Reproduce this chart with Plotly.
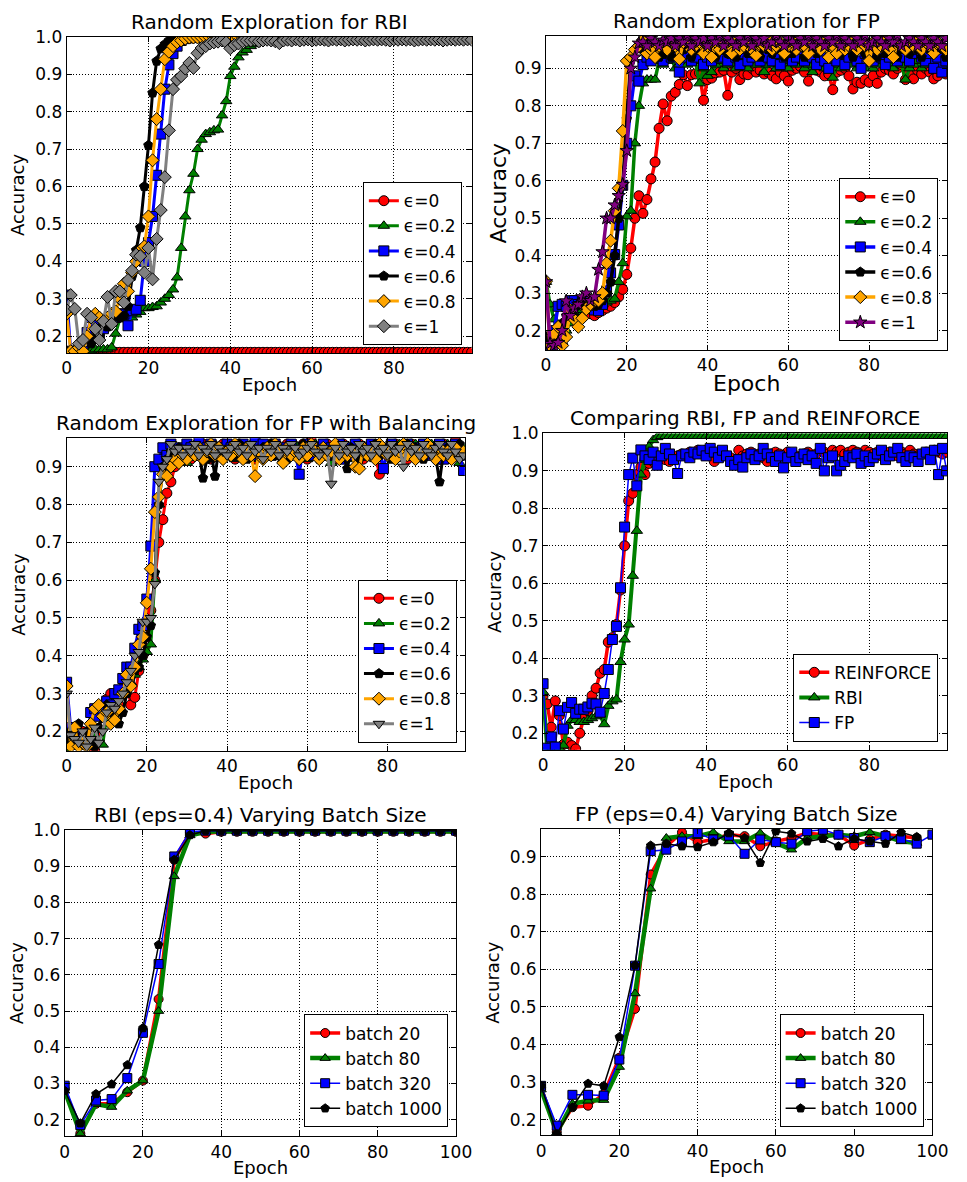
import plotly.graph_objects as go

W, H = 967, 1182

EPOCHS = list(range(100))
BATCH_EPOCHS = [0, 4, 8, 12, 16, 20, 24, 28, 32, 36, 40, 44, 48, 52, 56, 60, 64, 68, 72, 76, 80, 84, 88, 92, 96, 100]

EPS_LABELS = ["ϵ=0", "ϵ=0.2", "ϵ=0.4", "ϵ=0.6", "ϵ=0.8", "ϵ=1"]
CMP_LABELS = ["REINFORCE", "RBI", "FP"]
BATCH_LABELS = ["batch 20", "batch 80", "batch 320", "batch 1000"]

# ---------------- Panel 1: Random Exploration for RBI ----------------
RBI_EPS_0 = [
    0.157, 0.157, 0.157, 0.157, 0.157, 0.157, 0.157, 0.157, 0.157, 0.157,
    0.157, 0.157, 0.157, 0.157, 0.157, 0.157, 0.157, 0.157, 0.157, 0.157,
    0.157, 0.157, 0.157, 0.157, 0.157, 0.157, 0.157, 0.157, 0.157, 0.157,
    0.157, 0.157, 0.157, 0.157, 0.157, 0.157, 0.157, 0.157, 0.157, 0.157,
    0.157, 0.157, 0.157, 0.157, 0.157, 0.157, 0.157, 0.157, 0.157, 0.157,
    0.157, 0.157, 0.157, 0.157, 0.157, 0.157, 0.157, 0.157, 0.157, 0.157,
    0.157, 0.157, 0.157, 0.157, 0.157, 0.157, 0.157, 0.157, 0.157, 0.157,
    0.157, 0.157, 0.157, 0.157, 0.157, 0.157, 0.157, 0.157, 0.157, 0.157,
    0.157, 0.157, 0.157, 0.157, 0.157, 0.157, 0.157, 0.157, 0.157, 0.157,
    0.157, 0.157, 0.157, 0.157, 0.157, 0.157, 0.157, 0.157, 0.157, 0.157]
RBI_EPS_02 = [
    0.160, 0.160, 0.160, 0.160, 0.160, 0.160, 0.162, 0.165, 0.165, 0.165,
    0.165, 0.170, 0.207, 0.245, 0.250, 0.255, 0.250, 0.258, 0.265, 0.275,
    0.275, 0.278, 0.280, 0.290, 0.300, 0.310, 0.325, 0.357, 0.436, 0.520,
    0.590, 0.634, 0.700, 0.725, 0.740, 0.745, 0.750, 0.752, 0.790, 0.828,
    0.895, 0.920, 0.945, 0.958, 0.965, 0.975, 0.980, 0.985, 0.990, 0.993,
    0.994, 0.995, 0.995, 0.996, 0.995, 0.996, 0.996, 0.995, 0.996, 0.996,
    0.996, 0.995, 0.996, 0.996, 0.996, 0.996, 0.995, 0.996, 0.996, 0.996,
    0.996, 0.996, 0.995, 0.996, 0.996, 0.996, 0.996, 0.996, 0.995, 0.996,
    0.996, 0.996, 0.996, 0.996, 0.996, 0.995, 0.996, 0.996, 0.996, 0.996,
    0.996, 0.996, 0.996, 0.995, 0.996, 0.996, 0.996, 0.996, 0.996, 0.996]
RBI_EPS_04 = [
    0.310, 0.160, 0.160, 0.160, 0.160, 0.210, 0.250, 0.240, 0.200, 0.220,
    0.230, 0.240, 0.250, 0.260, 0.259, 0.228, 0.268, 0.272, 0.296, 0.400,
    0.450, 0.520, 0.630, 0.740, 0.860, 0.925, 0.955, 0.975, 0.990, 0.995,
    0.997, 0.998, 0.998, 0.998, 0.998, 0.998, 0.998, 0.998, 0.998, 0.998,
    0.998, 0.998, 0.998, 0.998, 0.998, 0.998, 0.998, 0.998, 0.998, 0.998,
    0.998, 0.998, 0.998, 0.998, 0.998, 0.998, 0.998, 0.998, 0.998, 0.998,
    0.998, 0.998, 0.998, 0.998, 0.998, 0.998, 0.998, 0.998, 0.998, 0.998,
    0.998, 0.998, 0.998, 0.998, 0.998, 0.998, 0.998, 0.998, 0.998, 0.998,
    0.998, 0.998, 0.998, 0.998, 0.998, 0.998, 0.998, 0.998, 0.998, 0.998,
    0.998, 0.998, 0.998, 0.998, 0.998, 0.998, 0.998, 0.998, 0.998, 0.998]
RBI_EPS_06 = [
    0.160, 0.160, 0.160, 0.160, 0.160, 0.200, 0.180, 0.220, 0.200, 0.230,
    0.225, 0.240, 0.260, 0.250, 0.255, 0.280, 0.360, 0.430, 0.490, 0.600,
    0.710, 0.850, 0.935, 0.968, 0.980, 0.990, 0.998, 0.999, 0.999, 0.999,
    0.999, 0.999, 0.999, 0.999, 0.999, 0.999, 0.999, 0.999, 0.999, 0.999,
    0.999, 0.999, 0.999, 0.999, 0.999, 0.999, 0.999, 0.999, 0.999, 0.999,
    0.999, 0.999, 0.999, 0.999, 0.999, 0.999, 0.999, 0.999, 0.999, 0.999,
    0.999, 0.999, 0.999, 0.999, 0.999, 0.999, 0.999, 0.999, 0.999, 0.999,
    0.999, 0.999, 0.999, 0.999, 0.999, 0.999, 0.999, 0.999, 0.999, 0.999,
    0.999, 0.999, 0.999, 0.999, 0.999, 0.999, 0.999, 0.999, 0.999, 0.999,
    0.999, 0.999, 0.999, 0.999, 0.999, 0.999, 0.999, 0.999, 0.999, 0.999]
RBI_EPS_08 = [
    0.260, 0.160, 0.160, 0.170, 0.160, 0.200, 0.250, 0.260, 0.250, 0.240,
    0.250, 0.260, 0.266, 0.300, 0.340, 0.320, 0.370, 0.400, 0.430, 0.440,
    0.520, 0.670, 0.780, 0.860, 0.940, 0.960, 0.975, 0.985, 0.990, 0.995,
    0.998, 0.998, 0.998, 0.998, 0.998, 0.998, 0.998, 0.998, 0.998, 0.998,
    0.998, 0.998, 0.998, 0.998, 0.998, 0.998, 0.998, 0.998, 0.998, 0.998,
    0.998, 0.998, 0.998, 0.998, 0.998, 0.998, 0.998, 0.998, 0.998, 0.998,
    0.998, 0.998, 0.998, 0.998, 0.998, 0.998, 0.998, 0.998, 0.998, 0.998,
    0.998, 0.998, 0.998, 0.998, 0.998, 0.998, 0.998, 0.998, 0.998, 0.998,
    0.998, 0.998, 0.998, 0.998, 0.998, 0.998, 0.998, 0.998, 0.998, 0.998,
    0.998, 0.998, 0.998, 0.998, 0.998, 0.998, 0.998, 0.998, 0.998, 0.998]
RBI_EPS_1 = [
    0.270, 0.310, 0.273, 0.180, 0.190, 0.260, 0.250, 0.220, 0.190, 0.240,
    0.305, 0.233, 0.320, 0.320, 0.290, 0.350, 0.375, 0.418, 0.414, 0.370,
    0.436, 0.352, 0.460, 0.537, 0.625, 0.750, 0.860, 0.885, 0.895, 0.915,
    0.930, 0.917, 0.956, 0.970, 0.975, 0.982, 0.985, 0.987, 0.990, 0.985,
    0.969, 0.978, 0.982, 0.988, 0.990, 0.990, 0.992, 0.988, 0.990, 0.992,
    0.990, 0.988, 0.983, 0.990, 0.992, 0.990, 0.993, 0.990, 0.992, 0.993,
    0.990, 0.992, 0.993, 0.992, 0.990, 0.993, 0.992, 0.993, 0.990, 0.992,
    0.993, 0.992, 0.993, 0.990, 0.992, 0.993, 0.992, 0.993, 0.992, 0.990,
    0.993, 0.992, 0.993, 0.992, 0.993, 0.990, 0.992, 0.993, 0.992, 0.993,
    0.992, 0.993, 0.990, 0.992, 0.993, 0.992, 0.993, 0.992, 0.993, 0.992]

# ---------------- Panel 2: Random Exploration for FP ----------------
FP_EPS_0 = [
    0.170, 0.160, 0.180, 0.190, 0.210, 0.220, 0.230, 0.240, 0.245, 0.250,
    0.250, 0.245, 0.240, 0.248, 0.254, 0.260, 0.265, 0.275, 0.290, 0.310,
    0.350, 0.420, 0.500, 0.560, 0.513, 0.550, 0.605, 0.650, 0.740, 0.805,
    0.760, 0.826, 0.836, 0.857, 0.883, 0.854, 0.883, 0.885, 0.888, 0.815,
    0.870, 0.874, 0.888, 0.890, 0.895, 0.828, 0.890, 0.900, 0.870, 0.885,
    0.883, 0.900, 0.890, 0.895, 0.885, 0.890, 0.880, 0.872, 0.890, 0.880,
    0.866, 0.895, 0.900, 0.905, 0.890, 0.866, 0.900, 0.895, 0.890, 0.880,
    0.885, 0.843, 0.890, 0.895, 0.900, 0.880, 0.845, 0.863, 0.860, 0.870,
    0.863, 0.880, 0.860, 0.890, 0.900, 0.895, 0.885, 0.900, 0.910, 0.870,
    0.890, 0.872, 0.895, 0.885, 0.900, 0.890, 0.872, 0.880, 0.895, 0.885]
FP_EPS_02 = [
    0.330, 0.270, 0.230, 0.190, 0.170, 0.200, 0.220, 0.240, 0.250, 0.255,
    0.260, 0.260, 0.260, 0.265, 0.270, 0.275, 0.280, 0.285, 0.330, 0.380,
    0.505, 0.520, 0.700, 0.800, 0.860, 0.870, 0.870, 0.870, 0.920, 0.910,
    0.920, 0.930, 0.900, 0.910, 0.920, 0.910, 0.930, 0.920, 0.860, 0.900,
    0.880, 0.890, 0.910, 0.920, 0.900, 0.910, 0.930, 0.900, 0.920, 0.910,
    0.900, 0.920, 0.910, 0.930, 0.890, 0.910, 0.920, 0.900, 0.910, 0.920,
    0.900, 0.930, 0.910, 0.920, 0.900, 0.910, 0.890, 0.920, 0.910, 0.900,
    0.920, 0.875, 0.910, 0.900, 0.920, 0.910, 0.930, 0.900, 0.910, 0.900,
    0.920, 0.900, 0.910, 0.920, 0.930, 0.910, 0.900, 0.920, 0.910, 0.870,
    0.900, 0.910, 0.920, 0.900, 0.910, 0.930, 0.900, 0.910, 0.920, 0.910]
FP_EPS_04 = [
    0.160, 0.150, 0.200, 0.265, 0.270, 0.265, 0.280, 0.280, 0.270, 0.280,
    0.270, 0.260, 0.255, 0.253, 0.270, 0.306, 0.354, 0.403, 0.482, 0.588,
    0.700, 0.800, 0.880, 0.866, 0.910, 0.930, 0.920, 0.940, 0.930, 0.920,
    0.940, 0.930, 0.950, 0.890, 0.930, 0.940, 0.920, 0.930, 0.950, 0.910,
    0.930, 0.920, 0.940, 0.930, 0.950, 0.920, 0.940, 0.930, 0.910, 0.940,
    0.920, 0.930, 0.940, 0.920, 0.950, 0.930, 0.920, 0.940, 0.910, 0.930,
    0.940, 0.920, 0.930, 0.950, 0.920, 0.940, 0.930, 0.910, 0.930, 0.920,
    0.900, 0.930, 0.920, 0.940, 0.910, 0.930, 0.950, 0.920, 0.900, 0.940,
    0.930, 0.920, 0.940, 0.930, 0.910, 0.930, 0.940, 0.920, 0.950, 0.930,
    0.920, 0.940, 0.950, 0.930, 0.920, 0.940, 0.900, 0.930, 0.890, 0.920]
FP_EPS_06 = [
    0.170, 0.190, 0.170, 0.200, 0.220, 0.240, 0.250, 0.260, 0.270, 0.280,
    0.260, 0.270, 0.265, 0.270, 0.280, 0.300, 0.330, 0.400, 0.500, 0.590,
    0.765, 0.920, 0.950, 0.960, 0.950, 0.940, 0.960, 0.950, 0.930, 0.940,
    0.950, 0.930, 0.960, 0.940, 0.950, 0.970, 0.930, 0.950, 0.960, 0.940,
    0.960, 0.950, 0.930, 0.970, 0.950, 0.940, 0.960, 0.930, 0.950, 0.960,
    0.940, 0.960, 0.950, 0.930, 0.970, 0.950, 0.940, 0.960, 0.950, 0.930,
    0.960, 0.940, 0.950, 0.970, 0.930, 0.950, 0.960, 0.940, 0.950, 0.960,
    0.930, 0.950, 0.960, 0.940, 0.970, 0.950, 0.930, 0.960, 0.950, 0.940,
    0.960, 0.950, 0.930, 0.970, 0.940, 0.950, 0.960, 0.930, 0.950, 0.960,
    0.940, 0.960, 0.950, 0.930, 0.970, 0.950, 0.940, 0.960, 0.950, 0.930]
FP_EPS_08 = [
    0.332, 0.160, 0.190, 0.210, 0.160, 0.183, 0.255, 0.230, 0.210, 0.233,
    0.257, 0.270, 0.280, 0.280, 0.300, 0.380, 0.440, 0.520, 0.580, 0.733,
    0.920, 0.930, 0.950, 0.960, 0.976, 0.940, 0.950, 0.930, 0.960, 0.970,
    0.950, 0.970, 0.960, 0.925, 0.970, 0.980, 0.950, 0.960, 0.970, 0.940,
    0.960, 0.930, 0.970, 0.950, 0.980, 0.960, 0.940, 0.970, 0.950, 0.960,
    0.970, 0.950, 0.935, 0.970, 0.960, 0.980, 0.950, 0.960, 0.970, 0.940,
    0.960, 0.970, 0.950, 0.980, 0.960, 0.940, 0.970, 0.960, 0.950, 0.970,
    0.930, 0.960, 0.940, 0.970, 0.950, 0.960, 0.980, 0.950, 0.970, 0.960,
    0.920, 0.970, 0.950, 0.960, 0.980, 0.950, 0.930, 0.970, 0.960, 0.950,
    0.970, 0.960, 0.980, 0.950, 0.970, 0.960, 0.940, 0.970, 0.960, 0.950]
FP_EPS_1 = [
    0.330, 0.165, 0.160, 0.168, 0.200, 0.279, 0.240, 0.260, 0.270, 0.290,
    0.300, 0.280, 0.290, 0.363, 0.410, 0.500, 0.500, 0.535, 0.560, 0.590,
    0.680, 0.900, 0.930, 0.967, 0.970, 0.960, 0.980, 0.970, 0.960, 0.975,
    0.970, 0.980, 0.960, 0.980, 0.970, 0.990, 0.960, 0.980, 0.970, 0.980,
    0.960, 0.980, 0.970, 0.990, 0.960, 0.980, 0.970, 0.960, 0.980, 0.970,
    0.990, 0.960, 0.980, 0.970, 0.980, 0.960, 0.970, 0.990, 0.970, 0.960,
    0.980, 0.970, 0.960, 0.980, 0.970, 0.990, 0.960, 0.980, 0.970, 0.960,
    0.980, 0.970, 0.990, 0.960, 0.980, 0.970, 0.960, 0.980, 0.970, 0.990,
    0.960, 0.970, 0.980, 0.970, 0.960, 0.980, 0.970, 0.990, 0.960, 0.970,
    0.980, 0.970, 0.960, 0.980, 0.970, 0.960, 0.980, 0.970, 0.960, 0.980]

# ---------------- Panel 3: Random Exploration for FP with Balancing ----------------
BAL_EPS_0 = [
    0.160, 0.170, 0.180, 0.170, 0.200, 0.190, 0.170, 0.150, 0.200, 0.260,
    0.285, 0.300, 0.290, 0.270, 0.300, 0.330, 0.270, 0.290, 0.360, 0.400,
    0.450, 0.520, 0.600, 0.700, 0.760, 0.830, 0.860, 0.900, 0.920, 0.930,
    0.940, 0.920, 0.950, 0.930, 0.960, 0.940, 0.920, 0.950, 0.930, 0.960,
    0.940, 0.950, 0.920, 0.960, 0.930, 0.950, 0.940, 0.920, 0.960, 0.950,
    0.930, 0.960, 0.940, 0.950, 0.920, 0.960, 0.940, 0.930, 0.950, 0.960,
    0.920, 0.970, 0.940, 0.950, 0.930, 0.960, 0.950, 0.920, 0.940, 0.960,
    0.930, 0.950, 0.940, 0.960, 0.920, 0.950, 0.940, 0.930, 0.880, 0.950,
    0.950, 0.940, 0.960, 0.930, 0.950, 0.920, 0.960, 0.940, 0.950, 0.930,
    0.960, 0.940, 0.950, 0.920, 0.960, 0.940, 0.930, 0.970, 0.950, 0.940]
BAL_EPS_02 = [
    0.150, 0.160, 0.170, 0.160, 0.180, 0.170, 0.160, 0.190, 0.170, 0.165,
    0.240, 0.270, 0.280, 0.300, 0.300, 0.320, 0.330, 0.350, 0.370, 0.390,
    0.410, 0.430, 0.600, 0.800, 0.900, 0.930, 0.940, 0.920, 0.950, 0.930,
    0.910, 0.940, 0.960, 0.930, 0.950, 0.920, 0.940, 0.960, 0.930, 0.950,
    0.940, 0.960, 0.920, 0.950, 0.930, 0.940, 0.960, 0.950, 0.920, 0.940,
    0.950, 0.930, 0.960, 0.940, 0.920, 0.950, 0.930, 0.960, 0.940, 0.950,
    0.920, 0.940, 0.960, 0.930, 0.950, 0.940, 0.910, 0.950, 0.930, 0.960,
    0.940, 0.950, 0.920, 0.960, 0.930, 0.950, 0.940, 0.920, 0.960, 0.930,
    0.950, 0.940, 0.920, 0.960, 0.930, 0.950, 0.940, 0.960, 0.920, 0.950,
    0.930, 0.960, 0.940, 0.950, 0.920, 0.960, 0.930, 0.940, 0.910, 0.950]
BAL_EPS_04 = [
    0.330, 0.210, 0.200, 0.180, 0.190, 0.170, 0.250, 0.260, 0.240, 0.260,
    0.280, 0.270, 0.300, 0.310, 0.340, 0.370, 0.370, 0.420, 0.470, 0.480,
    0.550, 0.690, 0.900, 0.920, 0.950, 0.930, 0.960, 0.940, 0.950, 0.920,
    0.960, 0.950, 0.930, 0.970, 0.940, 0.950, 0.960, 0.930, 0.950, 0.940,
    0.960, 0.950, 0.930, 0.940, 0.960, 0.950, 0.930, 0.970, 0.940, 0.960,
    0.950, 0.930, 0.960, 0.940, 0.950, 0.930, 0.960, 0.940, 0.880, 0.950,
    0.960, 0.930, 0.950, 0.940, 0.960, 0.930, 0.950, 0.940, 0.960, 0.920,
    0.950, 0.930, 0.960, 0.940, 0.950, 0.930, 0.960, 0.940, 0.950, 0.895,
    0.940, 0.960, 0.930, 0.950, 0.940, 0.960, 0.930, 0.950, 0.940, 0.960,
    0.930, 0.950, 0.940, 0.960, 0.920, 0.950, 0.940, 0.960, 0.930, 0.890]
BAL_EPS_06 = [
    0.170, 0.200, 0.190, 0.220, 0.180, 0.200, 0.180, 0.160, 0.210, 0.240,
    0.270, 0.260, 0.240, 0.220, 0.250, 0.300, 0.340, 0.360, 0.370, 0.400,
    0.450, 0.480, 0.620, 0.800, 0.900, 0.920, 0.940, 0.930, 0.950, 0.920,
    0.940, 0.930, 0.950, 0.940, 0.870, 0.920, 0.940, 0.875, 0.950, 0.930,
    0.940, 0.950, 0.930, 0.960, 0.940, 0.920, 0.950, 0.940, 0.930, 0.950,
    0.940, 0.960, 0.930, 0.950, 0.940, 0.920, 0.950, 0.930, 0.940, 0.960,
    0.930, 0.950, 0.940, 0.920, 0.950, 0.940, 0.930, 0.950, 0.940, 0.930,
    0.895, 0.950, 0.940, 0.920, 0.950, 0.930, 0.940, 0.960, 0.930, 0.950,
    0.940, 0.920, 0.950, 0.930, 0.940, 0.960, 0.930, 0.950, 0.940, 0.920,
    0.950, 0.940, 0.930, 0.860, 0.940, 0.950, 0.930, 0.940, 0.960, 0.930]
BAL_EPS_08 = [
    0.320, 0.160, 0.210, 0.160, 0.170, 0.160, 0.220, 0.260, 0.270, 0.240,
    0.250, 0.220, 0.230, 0.260, 0.300, 0.350, 0.320, 0.370, 0.430, 0.450,
    0.540, 0.630, 0.780, 0.820, 0.880, 0.875, 0.900, 0.920, 0.910, 0.930,
    0.920, 0.940, 0.930, 0.950, 0.920, 0.940, 0.960, 0.930, 0.950, 0.920,
    0.940, 0.930, 0.960, 0.940, 0.920, 0.950, 0.930, 0.875, 0.940, 0.920,
    0.950, 0.930, 0.960, 0.940, 0.910, 0.950, 0.930, 0.940, 0.920, 0.950,
    0.930, 0.960, 0.940, 0.920, 0.950, 0.930, 0.940, 0.960, 0.920, 0.950,
    0.930, 0.940, 0.900, 0.895, 0.950, 0.930, 0.940, 0.920, 0.960, 0.940,
    0.930, 0.950, 0.920, 0.940, 0.960, 0.930, 0.950, 0.920, 0.940, 0.930,
    0.960, 0.940, 0.920, 0.950, 0.930, 0.940, 0.920, 0.950, 0.930, 0.940]
BAL_EPS_1 = [
    0.300, 0.190, 0.180, 0.170, 0.200, 0.160, 0.180, 0.210, 0.170, 0.200,
    0.250, 0.270, 0.260, 0.280, 0.300, 0.330, 0.360, 0.400, 0.410, 0.490,
    0.490, 0.500, 0.590, 0.860, 0.900, 0.920, 0.960, 0.940, 0.950, 0.930,
    0.950, 0.940, 0.960, 0.930, 0.950, 0.940, 0.960, 0.930, 0.950, 0.940,
    0.930, 0.950, 0.960, 0.940, 0.950, 0.930, 0.960, 0.940, 0.950, 0.920,
    0.950, 0.940, 0.960, 0.930, 0.950, 0.940, 0.960, 0.950, 0.930, 0.940,
    0.950, 0.960, 0.940, 0.930, 0.950, 0.940, 0.855, 0.950, 0.930, 0.960,
    0.940, 0.950, 0.930, 0.960, 0.940, 0.950, 0.930, 0.960, 0.940, 0.950,
    0.930, 0.960, 0.940, 0.950, 0.900, 0.960, 0.940, 0.950, 0.930, 0.960,
    0.940, 0.930, 0.950, 0.960, 0.940, 0.930, 0.960, 0.940, 0.920, 0.930]

# ---------------- Panel 4: Comparing RBI, FP and REINFORCE ----------------
CMP_REINFORCE = [
    0.300, 0.278, 0.216, 0.286, 0.247, 0.170, 0.176, 0.167, 0.158, 0.200,
    0.242, 0.260, 0.300, 0.320, 0.360, 0.370, 0.443, 0.455, 0.490, 0.582,
    0.700, 0.820, 0.840, 0.890, 0.910, 0.890, 0.920, 0.925, 0.930, 0.935,
    0.930, 0.925, 0.935, 0.940, 0.945, 0.940, 0.950, 0.945, 0.955, 0.950,
    0.955, 0.950, 0.925, 0.945, 0.950, 0.940, 0.935, 0.925, 0.955, 0.940,
    0.945, 0.950, 0.940, 0.945, 0.935, 0.925, 0.945, 0.950, 0.945, 0.940,
    0.950, 0.945, 0.940, 0.935, 0.945, 0.950, 0.940, 0.945, 0.955, 0.950,
    0.945, 0.955, 0.950, 0.955, 0.945, 0.950, 0.955, 0.950, 0.945, 0.955,
    0.950, 0.945, 0.950, 0.940, 0.945, 0.950, 0.945, 0.940, 0.950, 0.945,
    0.955, 0.945, 0.940, 0.945, 0.950, 0.945, 0.955, 0.950, 0.945, 0.950]
CMP_RBI = [
    0.310, 0.160, 0.155, 0.155, 0.160, 0.167, 0.220, 0.235, 0.235, 0.230,
    0.230, 0.235, 0.240, 0.245, 0.250, 0.224, 0.273, 0.285, 0.290, 0.390,
    0.450, 0.490, 0.620, 0.740, 0.890, 0.930, 0.965, 0.982, 0.990, 0.993,
    0.993, 0.993, 0.993, 0.993, 0.993, 0.993, 0.993, 0.993, 0.993, 0.993,
    0.993, 0.993, 0.993, 0.993, 0.993, 0.993, 0.993, 0.993, 0.993, 0.993,
    0.993, 0.993, 0.993, 0.993, 0.993, 0.993, 0.993, 0.993, 0.993, 0.993,
    0.993, 0.993, 0.993, 0.993, 0.993, 0.993, 0.993, 0.993, 0.993, 0.993,
    0.993, 0.993, 0.993, 0.993, 0.993, 0.993, 0.993, 0.993, 0.993, 0.993,
    0.993, 0.993, 0.993, 0.993, 0.993, 0.993, 0.993, 0.993, 0.993, 0.993,
    0.993, 0.993, 0.993, 0.993, 0.993, 0.993, 0.993, 0.993, 0.993, 0.993]
CMP_FP = [
    0.332, 0.160, 0.190, 0.163, 0.260, 0.211, 0.269, 0.282, 0.253, 0.264,
    0.264, 0.270, 0.280, 0.278, 0.256, 0.306, 0.370, 0.450, 0.485, 0.588,
    0.750, 0.890, 0.934, 0.860, 0.956, 0.940, 0.930, 0.950, 0.915, 0.940,
    0.960, 0.945, 0.930, 0.893, 0.940, 0.945, 0.935, 0.950, 0.945, 0.955,
    0.940, 0.960, 0.950, 0.935, 0.955, 0.940, 0.925, 0.915, 0.930, 0.910,
    0.935, 0.945, 0.930, 0.940, 0.960, 0.945, 0.935, 0.925, 0.940, 0.908,
    0.935, 0.950, 0.925, 0.935, 0.945, 0.930, 0.940, 0.920, 0.960, 0.900,
    0.935, 0.940, 0.900, 0.915, 0.925, 0.940, 0.935, 0.945, 0.920, 0.940,
    0.925, 0.935, 0.945, 0.955, 0.930, 0.940, 0.950, 0.960, 0.935, 0.925,
    0.940, 0.935, 0.925, 0.945, 0.950, 0.930, 0.955, 0.890, 0.960, 0.900]

# ---------------- Panel 5: RBI (eps=0.4) Varying Batch Size ----------------
RBI_B20 = [0.285, 0.162, 0.244, 0.244, 0.276, 0.308, 0.533, 0.918, 0.992, 0.990,
           0.995, 0.995, 0.995, 0.995, 0.995, 0.995, 0.995, 0.995, 0.995, 0.995,
           0.995, 0.995, 0.995, 0.995, 0.995, 0.995]
RBI_B80 = [0.280, 0.162, 0.243, 0.235, 0.280, 0.308, 0.500, 0.872, 0.985, 0.995,
           0.996, 0.996, 0.996, 0.996, 0.996, 0.996, 0.996, 0.996, 0.996, 0.996,
           0.996, 0.996, 0.996, 0.996, 0.996, 0.996]
RBI_B320 = [0.294, 0.185, 0.253, 0.257, 0.315, 0.440, 0.630, 0.927, 0.995, 0.998,
            0.998, 0.998, 0.998, 0.998, 0.998, 0.998, 0.998, 0.998, 0.998, 0.998,
            0.998, 0.998, 0.998, 0.998, 0.998, 0.998]
RBI_B1000 = [0.280, 0.190, 0.271, 0.298, 0.351, 0.453, 0.683, 0.918, 0.986, 0.998,
             0.998, 0.998, 0.998, 0.998, 0.998, 0.998, 0.998, 0.998, 0.998, 0.998,
             0.998, 0.998, 0.998, 0.998, 0.998, 0.998]

# ---------------- Panel 6: FP (eps=0.4) Varying Batch Size ----------------
FP_B20 = [0.286, 0.167, 0.233, 0.237, 0.268, 0.365, 0.495, 0.853, 0.928, 0.965,
          0.939, 0.946, 0.959, 0.955, 0.928, 0.941, 0.950, 0.963, 0.959, 0.959,
          0.930, 0.946, 0.959, 0.955, 0.950]
FP_B80 = [0.280, 0.165, 0.242, 0.250, 0.252, 0.340, 0.536, 0.815, 0.950, 0.955,
          0.955, 0.965, 0.941, 0.941, 0.963, 0.937, 0.919, 0.950, 0.955, 0.959,
          0.955, 0.965, 0.955, 0.941, 0.937]
FP_B320 = [0.290, 0.184, 0.266, 0.266, 0.264, 0.360, 0.610, 0.915, 0.919, 0.941,
           0.963, 0.946, 0.956, 0.908, 0.946, 0.939, 0.935, 0.968, 0.972, 0.959,
           0.950, 0.939, 0.955, 0.948, 0.935, 0.959]
FP_B1000 = [0.290, 0.162, 0.233, 0.296, 0.290, 0.420, 0.611, 0.930, 0.935, 0.928,
            0.926, 0.939, 0.963, 0.950, 0.884, 0.968, 0.962, 0.941, 0.948, 0.928,
            0.948, 0.941, 0.935, 0.965, 0.953]

# ---------------- styling ----------------
RED, GREEN, BLUE, BLACK = "#ff0000", "#008000", "#0000ff", "#000000"
ORANGE, GRAY, PURPLE = "#ffa500", "#808080", "#800080"
FONT = "DejaVu Sans"

PANELS = [
    dict(x=(63, 477), y=(27, 346), yr=(0.155, 1.0), xr=(0, 99), title="Random Exploration for RBI",
         lab=18, acc_shift=-36, leg=(467, 338)),
    dict(x=(553, 963), y=(26, 343), yr=(0.148, 0.987), xr=(0, 99.3), title="Random Exploration for FP",
         lab=22, acc_shift=-33, leg=(954, 334)),
    dict(x=(63, 470), y=(432, 747), yr=(0.149, 0.975), xr=(0, 99.3),
         title="Random Exploration for FP with Balancing", lab=18, acc_shift=-36, leg=(462, 739)),
    dict(x=(550, 963), y=(427, 746), yr=(0.156, 1.0), xr=(0, 99.1),
         title="Comparing RBI, FP and REINFORCE", lab=18, acc_shift=-36, leg=(954, 738)),
    dict(x=(61, 461), y=(827, 1136), yr=(0.154, 1.0), xr=(0, 100),
         title="RBI (eps=0.4) Varying Batch Size", lab=18, acc_shift=-36, leg=(453, 1127)),
    dict(x=(548, 948), y=(826, 1135), yr=(0.158, 0.974), xr=(0, 100),
         title="FP (eps=0.4) Varying Batch Size", lab=18, acc_shift=-36, leg=(939, 1127)),
]

fig = go.Figure()


def add(panel, xs, ys, name, color, symbol, lw, ms):
    sfx = "" if panel == 1 else str(panel)
    fig.add_trace(go.Scatter(
        x=xs, y=ys, mode="lines+markers", name=name,
        line=dict(color=color, width=lw),
        marker=dict(symbol=symbol, size=ms, color=color, line=dict(color="black", width=1)),
        xaxis="x" + sfx, yaxis="y" + sfx, legend="legend" + sfx,
        legendgroup="p%d_%s" % (panel, name),
    ))


def ep(vals):
    return EPOCHS[:len(vals)]


# panel 1
for vals, lab, col, sym in zip(
        [RBI_EPS_0, RBI_EPS_02, RBI_EPS_04, RBI_EPS_06, RBI_EPS_08, RBI_EPS_1], EPS_LABELS,
        [RED, GREEN, BLUE, BLACK, ORANGE, GRAY],
        ["circle", "triangle-up", "square", "pentagon", "diamond", "diamond"]):
    add(1, ep(vals), vals, lab, col, sym, 3, 10)

# panel 2
for vals, lab, col, sym in zip(
        [FP_EPS_0, FP_EPS_02, FP_EPS_04, FP_EPS_06, FP_EPS_08, FP_EPS_1], EPS_LABELS,
        [RED, GREEN, BLUE, BLACK, ORANGE, PURPLE],
        ["circle", "triangle-up", "square", "pentagon", "diamond", "star"]):
    add(2, ep(vals), vals, lab, col, sym, 3.5, 10)

# panel 3
for vals, lab, col, sym in zip(
        [BAL_EPS_0, BAL_EPS_02, BAL_EPS_04, BAL_EPS_06, BAL_EPS_08, BAL_EPS_1], EPS_LABELS,
        [RED, GREEN, BLUE, BLACK, ORANGE, GRAY],
        ["circle", "triangle-up", "square", "pentagon", "diamond", "triangle-down"]):
    add(3, ep(vals), vals, lab, col, sym, 3, 10)

# panel 4
for vals, lab, col, sym, lw in zip(
        [CMP_REINFORCE, CMP_RBI, CMP_FP], CMP_LABELS, [RED, GREEN, BLUE],
        ["circle", "triangle-up", "square"], [3.5, 4, 1.5]):
    add(4, ep(vals), vals, lab, col, sym, lw, 10)

# panel 5
for vals, lab, col, sym, lw in zip(
        [RBI_B20, RBI_B80, RBI_B320, RBI_B1000], BATCH_LABELS, [RED, GREEN, BLUE, BLACK],
        ["circle", "triangle-up", "square", "pentagon"], [3.5, 4.5, 1.5, 1.5]):
    add(5, BATCH_EPOCHS[:len(vals)], vals, lab, col, sym, lw, 9)

# panel 6
for vals, lab, col, sym, lw in zip(
        [FP_B20, FP_B80, FP_B320, FP_B1000], BATCH_LABELS, [RED, GREEN, BLUE, BLACK],
        ["circle", "triangle-up", "square", "pentagon"], [3.5, 4.5, 1.5, 1.5]):
    add(6, BATCH_EPOCHS[:len(vals)], vals, lab, col, sym, lw, 9)

layout = dict(
    width=W, height=H, margin=dict(l=0, r=0, t=0, b=0),
    paper_bgcolor="white", plot_bgcolor="white",
    font=dict(family=FONT, color="black", size=16),
)
annotations = []
axis_common = dict(
    ticks="inside", ticklen=5, tickwidth=1, tickcolor="black",
    showline=True, linecolor="black", linewidth=1, mirror="allticks",
    showgrid=True, gridcolor="black", gridwidth=1, griddash="1px,2px",
    zeroline=False, tickfont=dict(family=FONT, size=17, color="black"),
)
for i, p in enumerate(PANELS, start=1):
    sfx = "" if i == 1 else str(i)
    x0, x1 = p["x"]
    ytop, ybot = p["y"]
    layout["xaxis" + sfx] = dict(axis_common, domain=[x0 / W, x1 / W], range=list(p["xr"]),
                                 tick0=0, dtick=20, anchor="y" + sfx)
    layout["yaxis" + sfx] = dict(axis_common, domain=[1 - ybot / H, 1 - ytop / H], range=list(p["yr"]),
                                 tick0=0, dtick=0.1, tickformat=".1f", anchor="x" + sfx)
    lx, ly = p["leg"]
    layout["legend" + sfx] = dict(
        x=lx / W, y=1 - ly / H, xanchor="right", yanchor="bottom",
        bgcolor="white", bordercolor="black", borderwidth=1,
        font=dict(family=FONT, size=17, color="black"), tracegroupgap=0,
    )
    cx = (x0 + x1) / 2 / W
    annotations.append(dict(text=p["title"], x=cx, y=1 - ytop / H, xref="paper", yref="paper",
                            xanchor="center", yanchor="bottom", yshift=1, showarrow=False,
                            font=dict(family=FONT, size=20, color="black")))
    annotations.append(dict(text="Epoch", x=cx, y=1 - ybot / H, xref="paper", yref="paper",
                            xanchor="center", yanchor="top", yshift=-19, showarrow=False,
                            font=dict(family=FONT, size=p["lab"], color="black")))
    annotations.append(dict(text="Accuracy", x=x0 / W, y=1 - (ytop + ybot) / 2 / H, xref="paper",
                            yref="paper", xanchor="right", yanchor="middle", xshift=p["acc_shift"],
                            textangle=-90, showarrow=False,
                            font=dict(family=FONT, size=p["lab"], color="black")))
layout["annotations"] = annotations
fig.update_layout(**layout)

fig.write_html("out.html")
